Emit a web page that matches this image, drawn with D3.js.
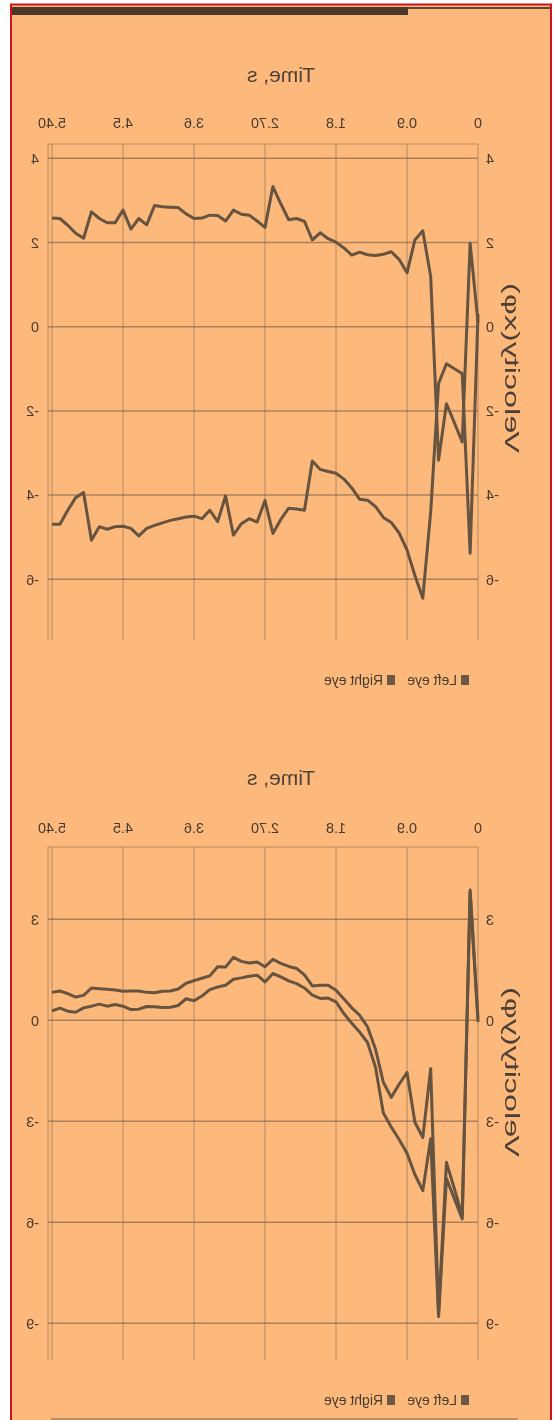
<!DOCTYPE html>
<html><head><meta charset="utf-8">
<script src="https://cdn.jsdelivr.net/npm/d3@7"></script>
<style>
body{margin:0;background:#fff}
svg{display:block}
text{font-family:"Liberation Sans",Arial,sans-serif}
</style>
</head><body>
<svg id="c" width="554" height="1420"></svg>
<script>
// ---- data ----
const timeS = [0,0.1,0.2,0.3,0.4,0.5,0.6,0.7,0.8,0.9,1.0,1.1,1.2,1.3,1.4,1.5,1.6,1.7,1.8,1.9,2.0,2.1,2.2,2.3,2.4,2.5,2.6,2.7,2.8,2.9,3.0,3.1,3.2,3.3,3.4,3.5,3.6,3.7,3.8,3.9,4.0,4.1,4.2,4.3,4.4,4.5,4.6,4.7,4.8,4.9,5.0,5.1,5.2,5.3,5.4];
const xTickValues = [0,0.9,1.8,2.7,3.6,4.5,5.4];
const xTickLabels = ["0","0.9","1.8","2.70","3.6","4.5","5.40"];
const seriesNames = ["Left eye","Right eye"];
const axisTitleX = "Time, s";
const yTitles = ["Velocity(xφ)","Velocity(yφ)"];
const xPanelYTicks = [4,2,0,-2,-4,-6];
const yPanelYTicks = [3,0,-3,-6,-9];

const xLeftEye = [0.1,1.98,-2.74,-2.28,-1.83,-3.17,1.19,2.28,2.06,1.28,1.6,1.78,1.72,1.69,1.71,1.77,1.70,1.87,2.01,2.09,2.23,2.06,2.50,2.57,2.54,2.92,3.33,2.36,2.51,2.65,2.67,2.77,2.51,2.64,2.65,2.58,2.57,2.68,2.83,2.84,2.85,2.88,2.42,2.57,2.32,2.77,2.47,2.47,2.57,2.73,2.10,2.22,2.41,2.57,2.58];
const xRightEye = [0.3,-5.38,-1.11,-1.0,-0.88,-1.35,-4.4,-6.45,-5.91,-5.30,-4.90,-4.65,-4.53,-4.27,-4.12,-4.10,-3.83,-3.62,-3.48,-3.44,-3.39,-3.19,-4.36,-4.33,-4.31,-4.58,-4.91,-4.13,-4.64,-4.56,-4.68,-4.95,-4.02,-4.63,-4.36,-4.56,-4.50,-4.52,-4.56,-4.60,-4.66,-4.72,-4.79,-4.97,-4.79,-4.74,-4.75,-4.81,-4.75,-5.07,-3.94,-4.06,-4.36,-4.69,-4.69];
const yLeftEye = [0.05,3.87,-5.8,-5.0,-4.22,-8.7,-1.44,-3.48,-3.03,-1.55,-1.9,-2.29,-1.84,-0.85,-0.2,0.15,0.37,0.63,0.89,1.04,1.04,1.02,1.35,1.54,1.60,1.69,1.81,1.59,1.73,1.70,1.75,1.87,1.58,1.59,1.32,1.25,1.18,1.10,0.93,0.87,0.86,0.82,0.83,0.87,0.87,0.86,0.90,0.92,0.94,0.96,0.74,0.69,0.79,0.87,0.83];
const yRightEye = [-0.05,3.8,-5.9,-5.3,-4.7,-8.8,-3.52,-5.06,-4.58,-3.95,-3.54,-3.17,-2.75,-1.39,-0.66,-0.35,-0.09,0.2,0.55,0.66,0.65,0.75,0.96,1.09,1.17,1.29,1.39,1.14,1.34,1.31,1.26,1.22,1.04,0.99,0.91,0.72,0.58,0.64,0.44,0.39,0.38,0.40,0.41,0.33,0.32,0.42,0.47,0.42,0.48,0.42,0.37,0.24,0.27,0.36,0.28];

// ---- drawing ----
const svg = d3.select("#c");
const defs = svg.append("defs");
defs.append("filter").attr("id","soft").append("feGaussianBlur").attr("stdDeviation",0.45);
svg.append("rect").attr("width",554).attr("height",1420).attr("fill","#ffffff");
// the reference picture is mirrored left-right
const root = svg.append("g").attr("transform","translate(554,0) scale(-1,1)");

root.append("rect").attr("x",3).attr("y",5).attr("width",540).attr("height",1415).attr("fill","#fdb97b");
root.append("path").attr("d","M3,1420V4.5H543V1420").attr("fill","none").attr("stroke","#d0141a").attr("stroke-width",2);
root.append("rect").attr("x",146).attr("y",7).attr("width",396).attr("height",8).attr("fill","#4b3a2b");
root.append("rect").attr("x",4).attr("y",7).attr("width",142).attr("height",2).attr("fill","#5c4838");
root.append("line").attr("x1",36).attr("x2",503).attr("y1",1419).attr("y2",1419).attr("stroke","#a5825f").attr("stroke-width",1.5);

const x = d3.scaleLinear().domain([0,5.4]).range([76,502]);
const plotL = 76, plotR = 506;
const lineCol = "#665340", gridCol = "#8f6f52", textCol = "#483b32";

const panels = [
  {top:144,bottom:640,dom:[-6,4],rng:[579.3,158.3],ticks:xPanelYTicks,titleY:82,tickY:128,legendY:680,yTitleY:368,title:yTitles[0],s:[xLeftEye,xRightEye]},
  {top:847,bottom:1360,dom:[-9,3],rng:[1323.3,919.3],ticks:yPanelYTicks,titleY:785,tickY:833,legendY:1400,yTitleY:1072,title:yTitles[1],s:[yLeftEye,yRightEye]}
];

panels.forEach(p=>{
  const y = d3.scaleLinear().domain(p.dom).range(p.rng);
  const g = root.append("g").attr("filter","url(#soft)");
  // horizontal gridlines
  g.selectAll(".hg").data(p.ticks).join("line")
    .attr("x1",plotL).attr("x2",plotR).attr("y1",d=>y(d)).attr("y2",d=>y(d))
    .attr("stroke",gridCol).attr("stroke-width",1.5).attr("opacity",0.75);
  // vertical gridlines
  g.selectAll(".vg").data(xTickValues).join("line")
    .attr("x1",d=>x(d)).attr("x2",d=>x(d)).attr("y1",p.top).attr("y2",p.bottom)
    .attr("stroke",gridCol).attr("stroke-width",1.1).attr("opacity",0.6);
  g.append("line").attr("x1",plotR).attr("x2",plotR).attr("y1",p.top).attr("y2",p.bottom)
    .attr("stroke",gridCol).attr("stroke-width",1.1).attr("opacity",0.6);
  g.append("line").attr("x1",plotL).attr("x2",plotR).attr("y1",p.top).attr("y2",p.top)
    .attr("stroke",gridCol).attr("stroke-width",1.1).attr("opacity",0.6);
  // x tick labels
  g.selectAll(".xl").data(xTickValues).join("text")
    .attr("x",d=>x(d)).attr("y",p.tickY).attr("text-anchor","middle")
    .attr("font-size",14.5).attr("fill",textCol).text((d,i)=>xTickLabels[i]);
  // y tick labels both sides
  g.selectAll(".yl").data(p.ticks).join("text")
    .attr("x",68).attr("y",d=>y(d)).attr("dy","0.36em").attr("text-anchor","end")
    .attr("font-size",14.5).attr("fill",textCol).text(d=>d);
  g.selectAll(".yr").data(p.ticks).join("text")
    .attr("x",515).attr("y",d=>y(d)).attr("dy","0.36em").attr("text-anchor","start")
    .attr("font-size",14.5).attr("fill",textCol).text(d=>d);
  // titles
  g.append("text").attr("x",273).attr("y",p.titleY).attr("text-anchor","middle")
    .attr("font-size",20).attr("fill","#4d4038").attr("textLength",68).attr("lengthAdjust","spacingAndGlyphs").text(axisTitleX);
  g.append("text").attr("transform",`translate(49,${p.yTitleY}) rotate(-90)`).attr("text-anchor","middle")
    .attr("font-size",21).attr("fill","#4d4038").attr("textLength",170).attr("lengthAdjust","spacingAndGlyphs").text(p.title);
  // series lines
  const line = d3.line().x((d,i)=>x(timeS[i])).y(d=>y(d));
  p.s.forEach(arr=>{
    g.append("path").attr("d",line(arr)).attr("fill","none").attr("stroke",lineCol)
      .attr("stroke-width",3).attr("stroke-linejoin","round");
  });
  // legend
  const lg = g.append("g");
  const lx = [85,159];
  seriesNames.forEach((n,i)=>{
    lg.append("rect").attr("x",lx[i]).attr("y",p.legendY-5).attr("width",8).attr("height",10).attr("fill","#6c5845");
    lg.append("text").attr("x",lx[i]+12).attr("y",p.legendY+5).attr("font-size",14).attr("fill",textCol).text(n);
  });
});
</script>
</body></html>
